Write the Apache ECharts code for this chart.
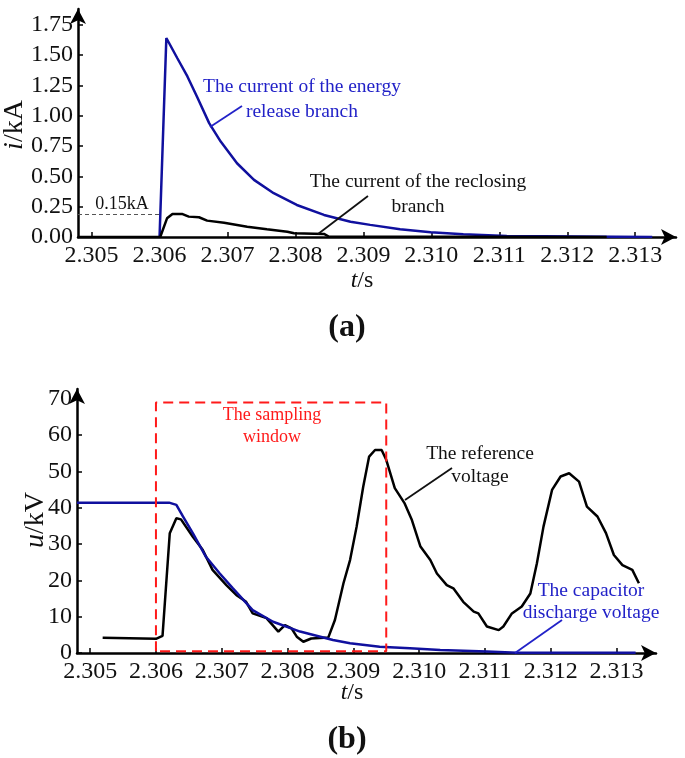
<!DOCTYPE html>
<html>
<head>
<meta charset="utf-8">
<script src="https://cdn.jsdelivr.net/npm/echarts@6/dist/echarts.min.js"></script>
<style>html,body{margin:0;padding:0;background:#fff}#c{width:685px;height:758px}</style>
</head>
<body>
<div id="c"></div>
<script>
// ---------- data ----------
const xTickValues = [2.305, 2.306, 2.307, 2.308, 2.309, 2.310, 2.311, 2.312, 2.313];
const topYTicks = [0, 0.25, 0.5, 0.75, 1.0, 1.25, 1.5, 1.75];
const botYTicks = [0, 10, 20, 30, 40, 50, 60, 70];

// (a) current of the energy release branch (kA)
const releaseT = [2.30600, 2.30610, 2.30626, 2.30641, 2.30655, 2.30673, 2.30690, 2.30714, 2.30739, 2.30768, 2.30802, 2.30842, 2.30881, 2.30910, 2.30954, 2.30999, 2.31047, 2.31111, 2.31325];
const releaseI = [0, 1.641, 1.476, 1.324, 1.159, 0.939, 0.787, 0.608, 0.471, 0.361, 0.264, 0.182, 0.126, 0.100, 0.064, 0.039, 0.022, 0.008, 0];

// (a) current of the reclosing branch (kA)
const recloseT = [2.3048, 2.30601, 2.30611, 2.30619, 2.30633, 2.30643, 2.30658, 2.30670, 2.30695, 2.30729, 2.30758, 2.30788, 2.30798, 2.30842, 2.30849, 2.31258];
const recloseI = [0, 0, 0.154, 0.190, 0.190, 0.168, 0.163, 0.135, 0.118, 0.085, 0.064, 0.044, 0.031, 0.025, 0.004, 0];

// (a) 0.15 kA threshold marker
const thresholdT = 2.306;
const thresholdI = 0.19;

// (b) reference voltage (kV)
const refT = [2.30519, 2.30600, 2.30610, 2.30621, 2.30631, 2.30638, 2.30656, 2.30671, 2.30686, 2.30707, 2.30722, 2.30737, 2.30747, 2.30768, 2.30786, 2.30796, 2.30806, 2.30814, 2.30824, 2.30836, 2.30862, 2.30872, 2.30885, 2.30895,
  2.30905, 2.30915, 2.30924, 2.30933, 2.30943, 2.30950, 2.30963, 2.30978, 2.30989, 2.31002, 2.31017, 2.31027, 2.31042, 2.31052, 2.31067, 2.31083, 2.31090, 2.31103, 2.31121, 2.31128, 2.31141, 2.31156, 2.31169, 2.31179, 2.31189, 2.31202, 2.31215, 2.31228, 2.31243, 2.31255, 2.31271, 2.31284, 2.31296, 2.31309, 2.31324, 2.31334];
const refU = [4.2, 3.9, 4.7, 33.0, 37.1, 36.8, 32.0, 28.4, 22.9, 18.7, 16.0, 14.1, 10.9, 9.6, 5.9, 7.7, 6.8, 4.5, 3.1, 4.0, 4.3, 9.1, 19.2, 25.6,
  34.8, 45.8, 54.1, 55.9, 55.9, 53.2, 45.4, 41.2, 36.6, 29.3, 25.6, 21.9, 18.7, 17.8, 14.1, 11.4, 10.9, 7.3, 6.3, 7.3, 10.9, 12.8, 16.4, 24.7, 34.8, 44.9, 48.6, 49.5, 47.2, 40.3, 37.6, 33.0, 27.0, 24.2, 22.9, 19.2];

// (b) capacitor discharge voltage (kV)
const capT = [2.3048, 2.30620, 2.30631, 2.30641, 2.30656, 2.30676, 2.30697, 2.30717, 2.30747, 2.30778, 2.30819, 2.30869, 2.30895, 2.30940, 2.30986, 2.31032, 2.31103, 2.31149, 2.31329];
const capU = [41.4, 41.4, 40.8, 37.6, 33.0, 26.5, 21.9, 17.8, 11.8, 8.6, 5.9, 3.6, 2.7, 1.7, 1.3, 0.8, 0.4, 0.1, 0.1];

// (b) sampling window
const windowT = [2.306, 2.3095];
const windowU = [0.5, 69];

// ---------- chart ----------
const tMin = 2.3048, tMax = 2.3136;
const FONT = "'Liberation Serif', 'Times New Roman', serif";
const BLUE = '#10109e';
const BLUE_TXT = '#2222c8';
const RED = '#ff1a1a';
const zip = (a, b) => a.map((v, i) => [v, b[i]]);

function xAxisCfg(gi) {
  return {
    type: 'value', gridIndex: gi, min: tMin, max: tMax,
    axisLine: { show: true, onZero: false, symbol: ['none', 'arrow'], symbolSize: [12, 15], lineStyle: { color: '#000', width: 2.5 } },
    axisTick: { show: true, inside: true, length: 5, customValues: xTickValues, lineStyle: { color: '#000', width: 1.5 } },
    axisLabel: { customValues: xTickValues, formatter: v => v.toFixed(3), fontFamily: FONT, fontSize: 24, color: '#111', margin: 7 },
    splitLine: { show: false }
  };
}
function yAxisCfg(gi, max, ticks, fmt) {
  return {
    type: 'value', gridIndex: gi, min: 0, max: max,
    axisLine: { show: true, onZero: false, symbol: ['none', 'arrow'], symbolSize: [12, 15], lineStyle: { color: '#000', width: 2.5 } },
    axisTick: { show: true, inside: true, length: 5, customValues: ticks, lineStyle: { color: '#000', width: 1.5 } },
    axisLabel: { customValues: ticks, formatter: fmt, fontFamily: FONT, fontSize: 24, color: '#111', margin: 5 },
    splitLine: { show: false }
  };
}

const windowData = [
  [windowT[0], windowU[0]], [windowT[0], windowU[1]], [windowT[1], windowU[1]], [windowT[1], windowU[0]], [windowT[0], windowU[0]]
];

function txt(x, y, text, size, color, extra) {
  return {
    type: 'text', x: x, y: y, z: 100,
    style: Object.assign({ text: text, fontFamily: FONT, fontSize: size, fill: color, align: 'center', verticalAlign: 'middle', textAlign: 'center', textVerticalAlign: 'middle' }, extra || {})
  };
}
function seg(x1, y1, x2, y2, color) {
  return { type: 'line', z: 100, shape: { x1: x1, y1: y1, x2: x2, y2: y2 }, style: { stroke: color, lineWidth: 1.8 } };
}

const chart = echarts.init(document.getElementById('c'), null, { renderer: 'canvas' });
chart.setOption({
  backgroundColor: '#fff',
  animation: false,
  grid: [
    { left: 78, top: 9, width: 598, height: 228 },
    { left: 77, top: 389, width: 579, height: 264 }
  ],
  xAxis: [xAxisCfg(0), xAxisCfg(1)],
  yAxis: [
    yAxisCfg(0, 1.88, topYTicks, v => v.toFixed(2)),
    yAxisCfg(1, 72.7, botYTicks, v => String(Math.round(v)))
  ],
  series: [
    { type: 'line', xAxisIndex: 0, yAxisIndex: 0, data: zip(releaseT, releaseI), showSymbol: false, lineStyle: { color: BLUE, width: 2.5 } },
    { type: 'line', xAxisIndex: 0, yAxisIndex: 0, data: zip(recloseT, recloseI), showSymbol: false, lineStyle: { color: '#000', width: 2.5 },
      markLine: { silent: true, symbol: ['none', 'none'], label: { show: false },
        lineStyle: { color: '#555', type: [4, 3], width: 1 },
        data: [[{ coord: [tMin, thresholdI] }, { coord: [thresholdT, thresholdI] }]] } },
    { type: 'line', xAxisIndex: 1, yAxisIndex: 1, data: zip(refT, refU), showSymbol: false, lineStyle: { color: '#000', width: 2.5 } },
    { type: 'line', xAxisIndex: 1, yAxisIndex: 1, data: zip(capT, capU), showSymbol: false, lineStyle: { color: BLUE, width: 2.5 } },
    { type: 'line', xAxisIndex: 1, yAxisIndex: 1, data: windowData, showSymbol: false, lineStyle: { color: RED, width: 2, type: [10, 6] } }
  ],
  graphic: [
    // axis names and captions
    Object.assign(txt(15, 125, '{it|i}/kA', 28, '#111', { rich: { it: { fontStyle: 'italic', fontFamily: FONT, fontSize: 28 } } }), { rotation: Math.PI / 2 }),
    txt(362, 281, '{it|t}/s', 24, '#111', { rich: { it: { fontStyle: 'italic', fontFamily: FONT, fontSize: 24 } } }),
    txt(347, 328, '(a)', 32, '#111', { fontWeight: 'bold' }),
    Object.assign(txt(36, 520, '{it|u}/kV', 28, '#111', { rich: { it: { fontStyle: 'italic', fontFamily: FONT, fontSize: 28 } } }), { rotation: Math.PI / 2 }),
    txt(352, 693, '{it|t}/s', 24, '#111', { rich: { it: { fontStyle: 'italic', fontFamily: FONT, fontSize: 24 } } }),
    txt(347, 740, '(b)', 32, '#111', { fontWeight: 'bold' }),
    // (a) annotations
    txt(302, 99.5, 'The current of the energy\nrelease branch', 19.5, BLUE_TXT, { lineHeight: 25 }),
    seg(242, 106, 210, 127, BLUE_TXT),
    txt(418, 194.5, 'The current of the reclosing\nbranch', 19.5, '#111', { lineHeight: 25 }),
    seg(368, 196, 318, 234, '#111'),
    txt(122, 204, '0.15kA', 18, '#111'),
    // (b) annotations
    txt(272, 426, 'The sampling\nwindow', 18, RED, { lineHeight: 22 }),
    txt(480, 465.5, 'The reference\nvoltage', 19.5, '#111', { lineHeight: 23 }),
    seg(452, 468, 405, 500, '#111'),
    txt(591, 602, 'The capacitor\ndischarge voltage', 19.5, BLUE_TXT, { lineHeight: 22 }),
    seg(562, 620, 515, 653, BLUE_TXT)
  ]
});
</script>
</body>
</html>
